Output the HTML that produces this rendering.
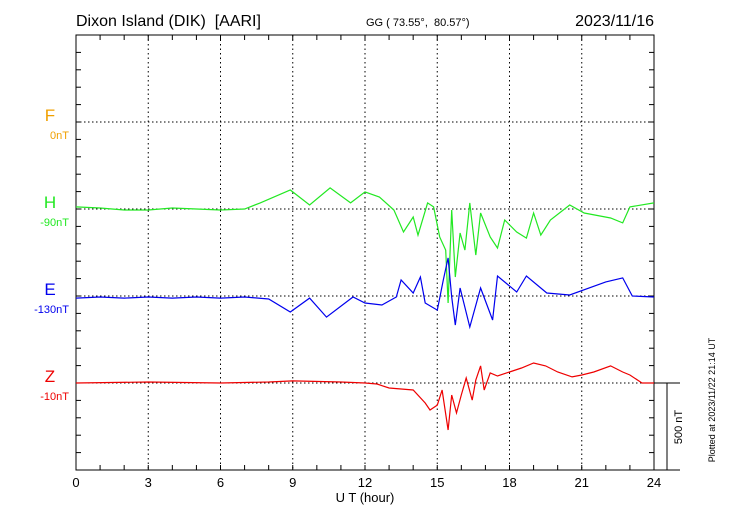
<!DOCTYPE html>
<html><head><meta charset="utf-8"><style>
body{margin:0;background:#fff;}
svg text{font-family:"Liberation Sans",sans-serif;white-space:pre;}
</style></head><body>
<svg id="chart" width="730" height="520" viewBox="0 0 730 520" xmlns="http://www.w3.org/2000/svg" xml:space="preserve">
<text x="76" y="26" font-size="16">Dixon Island (DIK)  [AARI]</text>
<text x="366" y="26" font-size="11">GG ( 73.55°,  80.57°)</text>
<text x="654" y="26" font-size="16" text-anchor="end">2023/11/16</text>
<g id="grid"></g>
<rect x="76" y="35" width="578" height="435" fill="none" stroke="#000" stroke-width="1"/>
<g id="series"></g>
<g id="labels"></g>
<line x1="654" y1="383" x2="680" y2="383" stroke="#000"/>
<line x1="667" y1="383" x2="667" y2="470" stroke="#000"/>
<line x1="654" y1="470" x2="680" y2="470" stroke="#000"/>
<text transform="translate(682,427) rotate(-90)" font-size="11" text-anchor="middle">500 nT</text>
<text transform="translate(715,400) rotate(-90)" font-size="9" text-anchor="middle">Plotted at 2023/11/22 21:14 UT</text>
<text x="365" y="502" font-size="13" text-anchor="middle">U T (hour)</text>
</svg>
<script>
const xTicks=[0,3,6,9,12,15,18,21,24];
const channels=["F","H","E","Z"];
const channelOffsets=["0nT","-90nT","-130nT","-10nT"];
const hTimes=[0,1,2,3,4,5,6,7,7.65,8.9,9.7,10.55,11.4,12,12.6,13.2,13.6,14.0,14.2,14.6,14.85,15.1,15.35,15.45,15.6,15.75,15.95,16.15,16.35,16.6,16.8,17.2,17.5,17.8,18.3,18.7,19.0,19.3,19.7,20.5,21.1,22.2,22.7,23.0,24];
const hValues=[12,6,-6,-6,6,0,-6,0,35,109,23,121,35,98,69,-6,-132,-46,-150,35,12,-161,-236,-540,-6,-391,-138,-236,35,-265,-23,-161,-224,-63,-132,-167,-23,-150,-63,23,-23,-52,-80,12,35];
const eTimes=[0,1,2,3,4,5,6,7,8,8.9,9.7,10.4,11.5,12,12.7,13.3,13.5,14.0,14.3,14.5,15.0,15.25,15.45,15.6,15.75,15.95,16.35,16.8,17.3,17.5,18.3,18.7,19.55,20.5,22.0,22.7,23.1,24];
const eValues=[-12,-6,-12,-6,-12,-6,-12,-6,-17,-92,-12,-121,-6,-40,-52,-6,92,17,109,-40,-81,92,219,-6,-167,46,-178,46,-138,115,23,115,17,6,81,104,0,-6];
const zTimes=[0,3,6,8,9,11,12,12.5,13,14,14.5,14.7,15,15.2,15.45,15.6,15.8,16,16.2,16.45,16.6,16.8,16.95,17.2,17.5,18,18.5,19,19.5,20,20.6,21,21.5,22.2,22.7,23,23.5,24];
const zValues=[0,6,0,6,12,6,0,-6,-29,-40,-115,-155,-127,-40,-270,-69,-172,-69,29,-98,17,98,-40,58,40,63,86,115,98,63,35,46,63,98,63,46,0,0];

const NS="http://www.w3.org/2000/svg";
const X0=76,X1=654,Y0=35,Y1=470;
const baselines=[122,209,296,383];
const colors=["#f0a000","#22e822","#0000ee","#ee0000"];
const xScale=h=>X0+h*(X1-X0)/24;
const yScale=(v,i)=>baselines[i]-v*87/500;
function mk(tag,attrs,parent){const e=document.createElementNS(NS,tag);for(const k in attrs)e.setAttribute(k,attrs[k]);parent.appendChild(e);return e;}
const grid=document.getElementById('grid');
xTicks.forEach(t=>{
  const x=xScale(t);
  if(t>0&&t<24){const l=mk('line',{x1:x,y1:Y0,x2:x,y2:Y1,stroke:'#000','stroke-dasharray':'1.5,3'},grid);
  
  }
  const tx=mk('text',{x:x,y:487,'font-size':13,'text-anchor':'middle'},grid);
  tx.textContent=t;
  
  
});
for(let h=1;h<24;h++){const x=xScale(h);
  const a=mk('line',{x1:x,y1:Y0,x2:x,y2:Y0+5,stroke:'#000'},grid);
  
  
  const b=mk('line',{x1:x,y1:Y1,x2:x,y2:Y1-5,stroke:'#000'},grid);
  
  }
for(let y=Y1-17.4;y>Y0;y-=17.4){
  const a=mk('line',{x1:X0,y1:y,x2:X0+5,y2:y,stroke:'#000'},grid);
  
  
  const b=mk('line',{x1:X1,y1:y,x2:X1-5,y2:y,stroke:'#000'},grid);
  
  }
baselines.forEach((b,i)=>{const l=mk('line',{x1:X0,y1:b,x2:X1,y2:b,stroke:'#000','stroke-dasharray':'1.5,2.5'},grid);
  
  });
const labels=document.getElementById('labels');
channels.forEach((c,i)=>{
  const t=mk('text',{x:50,y:baselines[i]-1,'font-size':17,'text-anchor':'middle',fill:colors[i]},labels);
  t.textContent=c;
  
  
  const o=mk('text',{x:69,y:baselines[i]+17,'font-size':11,'text-anchor':'end',fill:colors[i]},labels);
  o.textContent=channelOffsets[i];
  
  
});
const series=document.getElementById('series');
[[hTimes,hValues,1,'h'],[eTimes,eValues,2,'e'],[zTimes,zValues,3,'z']].forEach(([ts,vs,i,n])=>{
  const pts=ts.map((t,k)=>xScale(t).toFixed(1)+','+yScale(vs[k],i).toFixed(1)).join(' ');
  const p=mk('polyline',{points:pts,fill:'none',stroke:colors[i],'stroke-width':1.2},series);
  
  
});
</script>
</body></html>
